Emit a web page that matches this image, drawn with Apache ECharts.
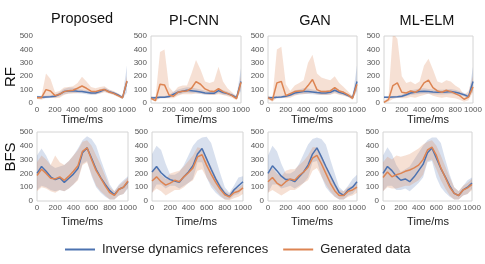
<!DOCTYPE html>
<html><head><meta charset="utf-8">
<script src="https://cdn.jsdelivr.net/npm/echarts@6/dist/echarts.min.js"></script>
<style>html,body{margin:0;padding:0;background:#fff}#c{width:485px;height:264px}</style>
</head><body><div id="c"></div>
<script>
// time axis (ms)
const T = [0,50,100,150,200,250,300,350,400,450,500,550,600,650,700,750,800,850,900,950,1000];
const methods = ['Proposed','PI-CNN','GAN','ML-ELM'];
const rows = ['RF','BFS'];
const seriesNames = ['Inverse dynamics references','Generated data'];

// ---- RF : Proposed ----
const rfPropRef   = [45,42,45,47,50,65,85,90,92,88,85,80,75,75,85,100,85,75,60,40,160];
const rfPropRefLo = [35,32,35,37,40,50,65,70,75,72,70,65,62,62,72,85,72,65,50,30,80];
const rfPropRefHi = [55,52,55,57,62,80,105,115,115,105,100,95,90,90,100,115,98,85,70,52,280];
const rfPropGen   = [40,40,100,90,55,65,85,92,95,110,127,110,88,85,95,100,82,72,55,38,165];
const rfPropGenLo = [30,25,40,45,35,40,60,70,70,75,80,75,65,65,70,80,70,60,45,30,140];
const rfPropGenHi = [50,55,220,180,80,90,115,120,125,150,195,160,120,110,120,125,100,90,70,50,200];
// ---- RF : PI-CNN ----
const rfPiRef   = [38,40,42,43,48,65,80,88,95,92,88,82,75,72,72,92,78,70,58,40,160];
const rfPiRefLo = [30,32,34,35,38,50,62,70,78,75,72,68,62,60,60,75,64,58,48,30,90];
const rfPiRefHi = [48,50,52,52,60,85,100,110,118,115,108,100,92,88,90,110,95,85,70,52,260];
const rfPiGen   = [35,18,140,135,60,50,80,88,90,110,160,140,105,90,85,108,85,72,55,32,155];
const rfPiGenLo = [25,10,40,40,35,35,55,65,65,65,70,70,65,60,60,65,60,50,40,20,110];
const rfPiGenHi = [50,40,380,400,120,80,120,130,130,220,320,250,160,150,160,270,160,110,80,50,200];
// ---- RF : GAN ----
const rfGanRef   = [40,40,42,45,50,60,75,80,85,85,82,78,75,75,80,95,80,70,55,40,160];
const rfGanRefLo = [32,32,34,36,40,48,60,64,68,68,66,62,60,60,64,78,65,57,45,30,90];
const rfGanRefHi = [50,50,52,55,62,75,95,100,110,108,100,95,92,92,98,115,96,85,68,52,280];
const rfGanGen   = [40,22,150,160,55,70,85,90,92,130,175,100,85,85,90,115,90,80,60,35,140];
const rfGanGenLo = [25,10,40,45,35,40,55,65,65,70,75,65,60,60,62,70,62,55,45,22,100];
const rfGanGenHi = [55,40,400,420,140,90,130,150,170,300,360,220,190,180,170,200,150,120,85,50,180];
// ---- RF : ML-ELM ----
const rfElmRef   = [42,42,44,46,50,62,75,80,85,88,85,82,80,80,82,85,80,72,62,48,160];
const rfElmRefLo = [35,35,36,38,40,50,60,64,68,70,68,66,64,64,66,68,64,58,50,38,90];
const rfElmRefHi = [50,50,52,55,62,78,95,100,108,110,105,100,98,98,100,105,98,88,75,60,270];
const rfElmGen   = [5,25,130,150,80,75,90,80,100,150,170,115,90,80,95,85,70,55,28,45,120];
const rfElmGenLo = [0,10,30,40,35,35,45,40,50,60,70,55,45,40,45,40,35,25,10,20,80];
const rfElmGenHi = [15,45,520,480,200,150,160,140,160,280,330,250,160,150,170,160,130,110,60,90,200];

// ---- BFS : Proposed ----
const bfsPropRef   = [200,250,215,175,155,168,135,165,195,235,350,385,310,230,170,120,75,45,85,100,140];
const bfsPropRefLo = [80,110,100,80,70,80,70,90,120,160,270,290,180,100,60,30,10,10,40,50,90];
const bfsPropRefHi = [330,380,330,260,240,250,260,290,330,380,440,470,450,400,300,210,120,70,120,150,180];
const bfsPropGen   = [185,230,200,165,160,175,150,180,215,255,360,385,300,220,165,110,60,40,85,100,145];
const bfsPropGenLo = [70,100,90,70,60,80,70,90,120,150,260,280,190,110,70,40,10,10,40,50,100];
const bfsPropGenHi = [280,330,300,260,330,280,260,290,330,370,430,440,400,330,260,180,100,70,110,140,170];
// ---- BFS : PI-CNN ----
const bfsPiRef   = [210,250,205,175,155,145,135,175,210,255,340,380,305,230,160,100,55,32,80,110,140];
const bfsPiRefLo = [60,120,120,90,110,110,90,110,130,160,280,280,170,100,60,30,10,10,40,50,90];
const bfsPiRefHi = [340,400,370,270,190,190,210,260,330,400,440,460,465,420,310,200,100,60,110,170,180];
const bfsPiGen   = [145,175,140,115,130,150,140,175,205,240,320,335,260,195,135,85,45,30,60,70,95];
const bfsPiGenLo = [60,90,70,40,60,80,80,100,130,150,220,230,170,120,80,40,10,5,20,30,50];
const bfsPiGenHi = [210,250,190,160,200,210,220,250,290,330,390,380,310,250,180,120,70,50,90,100,120];
// ---- BFS : GAN ----
const bfsGanRef   = [200,255,220,180,155,155,140,175,210,260,340,385,320,250,185,120,60,40,80,100,140];
const bfsGanRefLo = [60,120,120,90,100,110,90,110,130,170,280,290,180,100,60,30,10,10,40,50,90];
const bfsGanRefHi = [330,400,360,270,200,200,220,270,340,410,450,460,450,410,300,200,100,70,110,160,190];
const bfsGanGen   = [140,170,130,110,140,160,150,185,210,245,310,330,270,200,130,75,40,40,70,80,100];
const bfsGanGenLo = [60,80,60,40,60,80,80,100,130,150,220,240,180,120,70,30,10,10,30,40,60];
const bfsGanGenHi = [200,240,200,180,220,230,230,260,290,330,390,390,330,260,200,130,80,70,100,110,130];
// ---- BFS : ML-ELM ----
const bfsElmRef   = [200,250,220,180,150,160,140,175,220,265,350,385,310,235,175,110,55,40,80,100,130];
const bfsElmRefLo = [70,110,110,80,80,90,70,100,130,170,280,290,170,100,60,30,10,10,40,50,90];
const bfsElmRefHi = [330,390,340,260,210,230,250,300,350,400,440,460,460,420,300,190,100,70,110,150,170];
const bfsElmGen   = [170,210,175,190,200,215,225,240,260,300,370,390,330,240,170,100,55,40,80,95,120];
const bfsElmGenLo = [70,100,90,90,100,110,110,130,150,190,290,300,230,150,90,40,10,10,40,50,80];
const bfsElmGenHi = [280,320,300,330,320,330,340,360,380,410,430,440,400,330,250,170,100,70,110,130,160];

const panels = [
  [rfPropRef,rfPropRefLo,rfPropRefHi,rfPropGen,rfPropGenLo,rfPropGenHi],
  [rfPiRef,rfPiRefLo,rfPiRefHi,rfPiGen,rfPiGenLo,rfPiGenHi],
  [rfGanRef,rfGanRefLo,rfGanRefHi,rfGanGen,rfGanGenLo,rfGanGenHi],
  [rfElmRef,rfElmRefLo,rfElmRefHi,rfElmGen,rfElmGenLo,rfElmGenHi],
  [bfsPropRef,bfsPropRefLo,bfsPropRefHi,bfsPropGen,bfsPropGenLo,bfsPropGenHi],
  [bfsPiRef,bfsPiRefLo,bfsPiRefHi,bfsPiGen,bfsPiGenLo,bfsPiGenHi],
  [bfsGanRef,bfsGanRefLo,bfsGanRefHi,bfsGanGen,bfsGanGenLo,bfsGanGenHi],
  [bfsElmRef,bfsElmRefLo,bfsElmRefHi,bfsElmGen,bfsElmGenLo,bfsElmGenHi]
];

const BLUE = '#4C72B0', ORANGE = '#DD8452';
const BLUE_BAND = 'rgba(76,114,176,0.22)', ORANGE_BAND = 'rgba(221,132,82,0.25)';
const FONT = "'Liberation Sans', Arial, sans-serif";

// layout
const gridBoxes = [
  {left:37, top:36, width:90, height:67, border:false},
  {left:151, top:36, width:90, height:67, border:true},
  {left:268, top:36, width:89, height:67, border:true},
  {left:384, top:36, width:89, height:67, border:true},
  {left:37, top:132, width:91, height:69, border:true},
  {left:152, top:132, width:91, height:69, border:true},
  {left:268, top:132, width:89, height:69, border:true},
  {left:383, top:132, width:89, height:69, border:true}
];

const grid = gridBoxes.map(g => ({left:g.left, top:g.top, width:g.width, height:g.height,
  show:g.border, borderColor:'#d4d4d4', borderWidth:1, containLabel:false}));
const xAxis = gridBoxes.map((g,i) => ({type:'value', gridIndex:i, min:0, max:1000, interval:200,
  axisLine:{show:false}, axisTick:{show:false}, splitLine:{show:false},
  axisLabel:{fontSize:8, color:'#555', margin:3, fontFamily:FONT, showMinLabel:true, showMaxLabel:true,
    hideOverlap:false, formatter:v => String(v)}}));
const yAxis = gridBoxes.map((g,i) => ({type:'value', gridIndex:i, min:0, max:500, interval:100,
  axisLine:{show:false}, axisTick:{show:false}, splitLine:{show:false},
  axisLabel:{fontSize:8, color:'#555', margin:4, fontFamily:FONT}}));

const series = [];
function band(i, lo, hi, color){
  const pts = T.map((t,k)=>[t, lo[k], hi[k]]);
  series.push({type:'custom', xAxisIndex:i, yAxisIndex:i, silent:true, clip:true, z:1,
    data: pts,
    encode:{x:0, y:[1,2]},
    renderItem:(params, api) => {
      if (params.dataIndex !== 0) return null;
      const upper = pts.map(p => api.coord([p[0], p[2]]));
      const lower = pts.map(p => api.coord([p[0], p[1]])).reverse();
      return {type:'polygon', shape:{points: upper.concat(lower)}, style:{fill:color, stroke:null}};
    }});
}
panels.forEach((p,i) => {
  band(i, p[1], p[2], BLUE_BAND);
  band(i, p[4], p[5], ORANGE_BAND);
});
panels.forEach((p,i) => {
  series.push({name:seriesNames[0], type:'line', xAxisIndex:i, yAxisIndex:i, symbol:'none',
    data:T.map((t,k)=>[t,p[0][k]]), lineStyle:{color:BLUE, width:1.5}, itemStyle:{color:BLUE}, z:3});
  series.push({name:seriesNames[1], type:'line', xAxisIndex:i, yAxisIndex:i, symbol:'none',
    data:T.map((t,k)=>[t,p[3][k]]), lineStyle:{color:ORANGE, width:1.5}, itemStyle:{color:ORANGE}, z:4});
});

const titleX = [82, 194, 315, 427];
const titleY = [19, 21, 21, 21];
const timeX = [82, 196, 312, 428];
const graphic = [];
methods.forEach((m,i) => {
  graphic.push({type:'text', x:titleX[i], y:titleY[i], style:{text:m, font:'14.5px '+FONT, fill:'#111', align:'center', verticalAlign:'middle'}});
  graphic.push({type:'text', x:timeX[i], y:120, style:{text:'Time/ms', font:'11px '+FONT, fill:'#222', align:'center', verticalAlign:'middle'}});
  graphic.push({type:'text', x:timeX[i], y:222, style:{text:'Time/ms', font:'11px '+FONT, fill:'#222', align:'center', verticalAlign:'middle'}});
});
graphic.push({type:'text', x:11, y:77, rotation:Math.PI/2, style:{text:rows[0], font:'15px '+FONT, fill:'#111', align:'center', verticalAlign:'middle'}});
graphic.push({type:'text', x:11, y:157, rotation:Math.PI/2, style:{text:rows[1], font:'15px '+FONT, fill:'#111', align:'center', verticalAlign:'middle'}});

const chart = echarts.init(document.getElementById('c'), null, {renderer:'canvas'});
chart.setOption({
  animation:false,
  backgroundColor:'#fff',
  grid, xAxis, yAxis, series, graphic,
  legend:{data:[{name:seriesNames[0], icon:'rect'},{name:seriesNames[1], icon:'rect'}],
    left:60, top:238, itemWidth:30, itemHeight:2, itemGap:15,
    textStyle:{fontSize:13, color:'#222', fontFamily:FONT, padding:[0,0,0,2]}}
});
</script></body></html>
